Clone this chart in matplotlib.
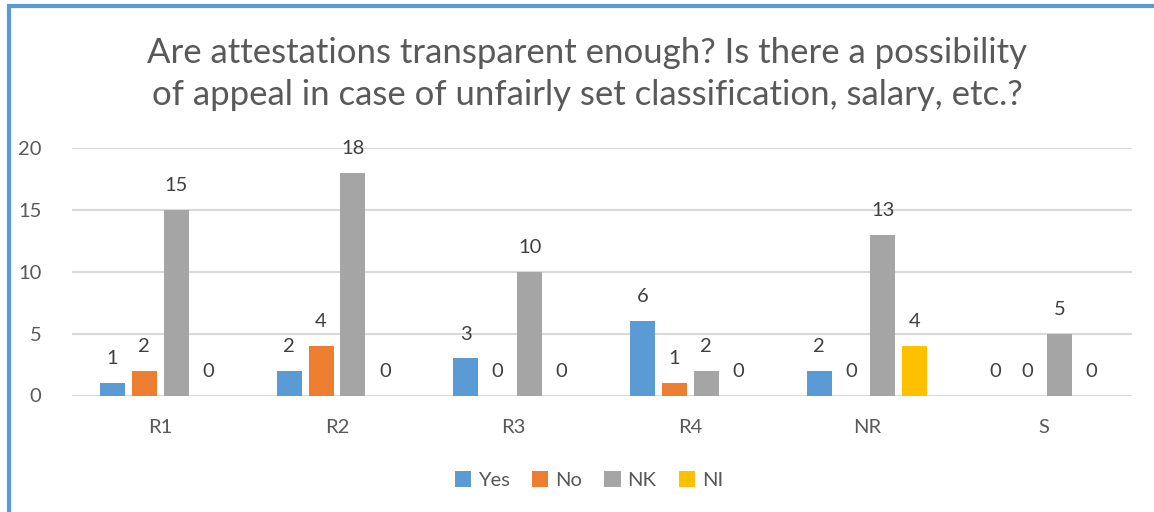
import matplotlib
matplotlib.use("Agg")
import matplotlib.pyplot as plt
import numpy as np
from matplotlib.patches import Rectangle, Patch

categories = ["R1", "R2", "R3", "R4", "NR", "S"]
series_names = ["Yes", "No", "NK", "NI"]
yes_vals = [1, 2, 3, 6, 2, 0]
no_vals = [2, 4, 0, 1, 0, 0]
nk_vals = [15, 18, 10, 2, 13, 5]
ni_vals = [0, 0, 0, 0, 4, 0]
colors = ["#5B9BD5", "#ED7D31", "#A5A5A5", "#FFC000"]
title = "Are attestations transparent enough? Is there a possibility\nof appeal in case of unfairly set classification, salary, etc.?"

plt.rcParams['font.family'] = ['Lato', 'DejaVu Sans']
txt = "#595959"

W, H = 1154, 512
fig = plt.figure(figsize=(W / 100, H / 100), dpi=100)
ax = fig.add_axes([72 / W, 1 - 395.5 / H, (1132 - 72) / W, (395.5 - 148) / H])

series = [yes_vals, no_vals, nk_vals, ni_vals]
x = np.arange(len(categories))
pitch = 32 / 176.7
bw = 25 / 176.7
for i, (vals, c) in enumerate(zip(series, colors)):
    pos = x + (i - 1.5) * pitch
    ax.bar(pos, vals, width=bw, color=c, zorder=3)
    for p, v in zip(pos, vals):
        ax.annotate(str(v), (p, v), xytext=(0, 17.5), textcoords="offset points",
                    ha="center", va="center", fontsize=14.5, color="#404040")

ax.set_xlim(-0.5, len(categories) - 0.5)
ax.set_ylim(0, 20)
ax.set_yticks([0, 5, 10, 15, 20])
ax.set_xticks(x)
ax.set_xticklabels(categories)
ax.tick_params(axis="both", length=0, labelsize=14.5, labelcolor=txt)
ax.tick_params(axis="x", pad=17)
ax.tick_params(axis="y", pad=22)
ax.grid(axis="y", color="#D9D9D9", linewidth=1.5, zorder=0)
for s in ax.spines.values():
    s.set_visible(False)

fig.text(587 / W, 1 - 74 / H, title, ha="center", va="center", fontsize=25,
         color=txt, linespacing=1.35)

handles = [Patch(facecolor=c, edgecolor="none") for c in colors]
fig.legend(handles, series_names, loc="center", bbox_to_anchor=(589 / W, 1 - 480 / H),
           ncol=4, frameon=False, fontsize=14.5, labelcolor=txt,
           handlelength=0.8, handleheight=0.8, handletextpad=0.35, columnspacing=1.1)

fig.add_artist(Rectangle((9 / W, -0.1), 1.2, 1 - 6 / H + 0.1, transform=fig.transFigure,
                         fill=False, edgecolor="#5B9BD5", linewidth=3))

fig.savefig("out.png", dpi=100)
